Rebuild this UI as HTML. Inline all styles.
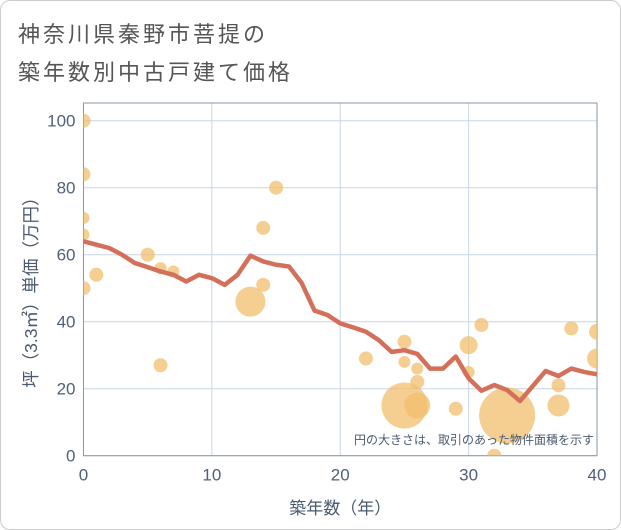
<!DOCTYPE html>
<html><head><meta charset="utf-8">
<style>
body{margin:0;background:#fff;}
#wrap{position:relative;width:619px;height:528px;border:1px solid #ccc;border-radius:10px;overflow:hidden;font-family:"Liberation Sans","Noto Sans CJK JP",sans-serif;}
.title{position:absolute;left:17px;font-size:22px;color:#555;letter-spacing:3px;}
</style></head><body>
<div id="wrap">
<div class="title" style="top:16px">神奈川県秦野市菩提の</div>
<div class="title" style="top:54px">築年数別中古戸建て価格</div>
<svg id="chart" width="621" height="530" style="position:absolute;left:-1px;top:-1px"></svg>
</div>
<script>
const lineYears=[0,1,2,3,4,5,6,7,8,9,10,11,12,13,14,15,16,17,18,19,20,21,22,23,24,25,26,27,28,29,30,31,32,33,34,35,36,37,38,39,40];
const lineValues=[64,63,62,60,57.5,56.3,55,54,52,54,53,51,54,59.7,58,57,56.5,51.5,43.3,42,39.5,38.3,37,34.5,31,31.5,30.4,26,26,29.6,23.1,19.4,21.1,19.6,16.3,20.8,25.3,23.8,26,25,24.3];
const bubbleX=[0,0,0,0,0,1,5,6,6,7,13,14,14,15,22,25,25,26,26,25,26,29,30,30,31,32,33,37,37,38,40,40];
const bubbleY=[100,84,71,66,50,54,60,56,27,55,46,68,51,80,29,34,28,26,22,15,15,14,33,25,39,0,12,21,15,38,37,29];
const bubbleR=[7,7,6,6,7,7,7,6,7,6,15,7,7,7,7,7,6,6,7,23,13,7,9,6,7,7,28,7,11,7,8,10];
const xTicks=[0,10,20,30,40];
const yTicks=[0,20,40,60,80,100];
const X0=83.5,X1=597,Y0=455.7,Y1=120.7;
const xs=v=>X0+(X1-X0)*v/40, ys=v=>Y0+(Y1-Y0)*v/100;
const svg=document.getElementById('chart');const NS='http://www.w3.org/2000/svg';
function mk(t,a){const e=document.createElementNS(NS,t);for(const k in a)e.setAttribute(k,a[k]);svg.appendChild(e);return e;}
const clip=mk('clipPath',{id:'pc'});const cr=document.createElementNS(NS,'rect');
cr.setAttribute('x',X0);cr.setAttribute('y',103);cr.setAttribute('width',X1-X0);cr.setAttribute('height',Y0-103);clip.appendChild(cr);
xTicks.forEach(t=>{const l=mk('line',{x1:xs(t),x2:xs(t),y1:103,y2:Y0,stroke:'#c8d6e6','stroke-width':1});

const tx=mk('text',{x:xs(t),y:Y0+25,'text-anchor':'middle','font-size':17,fill:'#50607a'});tx.textContent=t;
});
yTicks.forEach(t=>{const l=mk('line',{x1:X0,x2:X1,y1:ys(t),y2:ys(t),stroke:'#c8d6e6','stroke-width':1});

const tx=mk('text',{x:X0-8,y:ys(t)+6,'text-anchor':'end','font-size':17,fill:'#50607a'});tx.textContent=t;
});
const fr=mk('rect',{x:X0,y:103,width:X1-X0,height:Y0-103,fill:'none',stroke:'#8a96a6','stroke-width':1});

const g=mk('g',{'clip-path':'url(#pc)'});
bubbleX.forEach((v,i)=>{const c=document.createElementNS(NS,'circle');
c.setAttribute('cx',xs(v));c.setAttribute('cy',ys(bubbleY[i]));c.setAttribute('r',bubbleR[i]);
c.setAttribute('fill','#f2bd6d');c.setAttribute('fill-opacity','0.75');
g.appendChild(c);});
const p=document.createElementNS(NS,'polyline');
p.setAttribute('points',lineYears.map((v,i)=>xs(v)+','+ys(lineValues[i])).join(' '));
p.setAttribute('fill','none');p.setAttribute('stroke','#d4705a');p.setAttribute('stroke-width','4.5');p.setAttribute('stroke-linejoin','round');
g.appendChild(p);
const note=mk('text',{x:594,y:444,'text-anchor':'end','font-size':12,fill:'#4a5a70'});note.textContent='円の大きさは、取引のあった物件面積を示す';

const xl=mk('text',{x:X0+(X1-X0)/2,y:514,'text-anchor':'middle','font-size':17,fill:'#4a5a70'});xl.textContent='築年数（年）';

const yl=mk('text',{x:0,y:0,'text-anchor':'middle','font-size':17.5,fill:'#4a5a70',transform:'translate(37,'+(Y0+Y1)/2+') rotate(-90)'});yl.textContent='坪（3.3㎡）単価（万円）';

</script>
</body></html>
